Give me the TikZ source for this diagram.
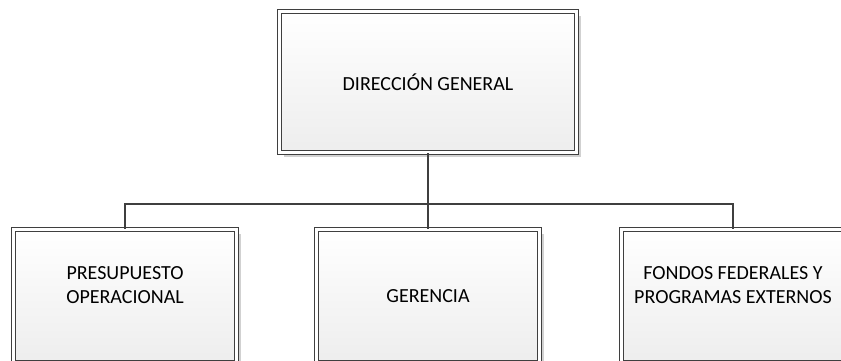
\documentclass[tikz,border=0pt]{standalone}
\usepackage{fontspec}
\setmainfont{Carlito}
\usetikzlibrary{shadows}
\definecolor{lineC}{HTML}{3F3F3F}
\tikzset{
  orgbox/.style={rectangle, draw=lineC, double=white, double distance=2.6pt, line width=1.2pt,
    top color=white, bottom color=black!7, minimum width=223pt, minimum height=133pt,
    inner sep=0pt, align=center, font=\fontsize{20}{24}\selectfont,
    drop shadow={shadow xshift=4pt, shadow yshift=-4pt, fill=black!18, opacity=1}},
  link/.style={draw=lineC, line width=1.8pt}
}
\begin{document}
\begin{tikzpicture}[x=1pt,y=-1pt]
\useasboundingbox (0,0) rectangle (841,360);
\clip (0,0) rectangle (841,360);
\node[orgbox, minimum width=297pt, minimum height=141pt] (dg) at (428,82) {DIRECCIÓN GENERAL};
\node[orgbox, text depth=22pt] (po) at (125,296) {PRESUPUESTO\\OPERACIONAL};
\node[orgbox] (ge) at (428,296) {GERENCIA};
\node[orgbox, text depth=22pt] (ff) at (733,296) {FONDOS FEDERALES Y\\PROGRAMAS EXTERNOS};
\coordinate (bus) at (428,204);
\draw[link] (dg.south) -- (bus);
\draw[link] (po.north) -- (po.north |- bus) -- (ff.north |- bus) -- (ff.north);
\draw[link] (ge.north) -- (bus);
\end{tikzpicture}
\end{document}
